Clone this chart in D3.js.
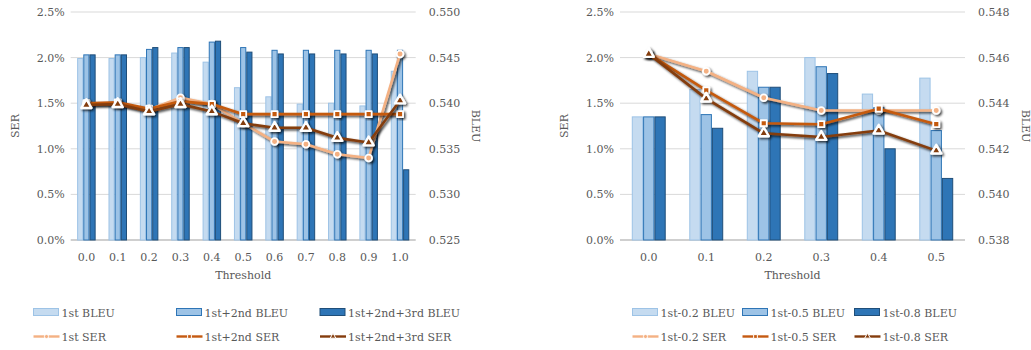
<!DOCTYPE html>
<html>
<head>
<meta charset="utf-8">
<script src="https://cdn.jsdelivr.net/npm/d3@7"></script>
<style>
  body { margin: 0; background: #fff; }
  svg text { font-family: "DejaVu Serif", serif; font-size: 11px; fill: #595959; }
</style>
</head>
<body>
<div id="chart"></div>
<script>
// left panel: cumulative candidates
const thresholdsL = ['0.0', '0.1', '0.2', '0.3', '0.4', '0.5', '0.6', '0.7', '0.8', '0.9', '1.0'];
const bleu1st      = [0.5449, 0.5449, 0.5450, 0.5455, 0.5445, 0.5417, 0.5407, 0.5399, 0.5400, 0.5397, 0.5435];
const bleu1st2nd   = [0.5453, 0.5453, 0.5459, 0.5461, 0.5467, 0.5461, 0.5458, 0.5458, 0.5458, 0.5458, 0.5458];
const bleu1st2nd3rd= [0.5453, 0.5453, 0.5461, 0.5461, 0.5468, 0.5456, 0.5454, 0.5454, 0.5454, 0.5454, 0.5327];
const ser1st       = [1.50, 1.50, 1.43, 1.56, 1.49, 1.28, 1.08, 1.05, 0.94, 0.90, 2.04];
const ser1st2nd    = [1.50, 1.51, 1.44, 1.52, 1.49, 1.38, 1.38, 1.38, 1.38, 1.38, 1.38];
const ser1st2nd3rd = [1.48, 1.49, 1.41, 1.49, 1.41, 1.28, 1.23, 1.23, 1.12, 1.07, 1.53];

// right panel: first candidate at different weights
const thresholdsR = ['0.0', '0.1', '0.2', '0.3', '0.4', '0.5'];
const bleuW02 = [0.5434, 0.5446, 0.5454, 0.5460, 0.5444, 0.5451];
const bleuW05 = [0.5434, 0.5435, 0.5447, 0.5456, 0.5438, 0.5428];
const bleuW08 = [0.5434, 0.5429, 0.5447, 0.5453, 0.5420, 0.5407];
const serW02  = [2.04, 1.85, 1.56, 1.42, 1.42, 1.42];
const serW05  = [2.04, 1.64, 1.28, 1.27, 1.44, 1.27];
const serW08  = [2.04, 1.55, 1.17, 1.13, 1.20, 0.98];

const serTicks = [0, 0.5, 1.0, 1.5, 2.0, 2.5];

const barStyles = [
  { fill: '#c5dbf0', stroke: '#9dc3e6' },
  { fill: '#9dc3e6', stroke: '#2e75b6' },
  { fill: '#2e75b6', stroke: '#1f4e79' }
];
const lineStyles = [
  { color: '#f4b183', marker: 'circle' },
  { color: '#c55a11', marker: 'square' },
  { color: '#843c0c', marker: 'triangle' }
];

const width = 1031, height = 350;
const svg = d3.select('#chart').append('svg')
  .attr('width', width).attr('height', height);

const defs = svg.append('defs');
defs.append('filter').attr('id', 'shadow')
  .attr('x', '-10%').attr('y', '-10%').attr('width', '130%').attr('height', '130%')
  .append('feDropShadow')
  .attr('dx', 1.6).attr('dy', 1.6).attr('stdDeviation', 1.3)
  .attr('flood-color', '#000').attr('flood-opacity', 0.75);

function markerPath(type, size) {
  if (type === 'circle') return d3.symbol(d3.symbolCircle, size)();
  if (type === 'square') return d3.symbol(d3.symbolSquare, size)();
  return d3.symbol(d3.symbolTriangle, size)();
}

function drawPanel(opt) {
  const { x0, x1, cats, bleus, sers, bleuDomain, bleuFormat, barNames, lineNames, legend } = opt;
  const top = 12, bottom = 240;
  const g = svg.append('g');

  const x = d3.scaleBand().domain(cats).range([x0, x1]).paddingInner(0.41).paddingOuter(0.205);
  const xb = d3.scaleBand().domain([0, 1, 2]).range([0, x.bandwidth()]);
  const yS = d3.scaleLinear().domain([0, 2.5]).range([bottom, top]);
  const yB = d3.scaleLinear().domain(bleuDomain).range([bottom, top]);

  // gridlines
  g.append('g').selectAll('line').data(serTicks).join('line')
    .attr('x1', x0).attr('x2', x1)
    .attr('y1', d => yS(d)).attr('y2', d => yS(d))
    .attr('stroke', d => d === 0 ? '#bfbfbf' : '#d9d9d9')
    .attr('stroke-width', d => d === 0 ? 1.3 : 1);

  // left axis
  const axL = g.append('g').attr('transform', `translate(${x0 - 6},0)`)
    .call(d3.axisLeft(yS).tickValues(serTicks).tickFormat(d => d.toFixed(1) + '%').tickSize(0).tickPadding(0));
  axL.select('.domain').remove();

  // right axis
  const axR = g.append('g').attr('transform', `translate(${x1 + 13},0)`)
    .call(d3.axisRight(yB).ticks(5).tickFormat(bleuFormat).tickSize(0).tickPadding(0));
  axR.select('.domain').remove();

  // x axis
  const axX = g.append('g').attr('transform', `translate(0,${bottom + 13})`)
    .call(d3.axisBottom(x).tickSize(0).tickPadding(0));
  axX.select('.domain').remove();

  g.append('text').attr('x', (x0 + x1) / 2).attr('y', 279).attr('text-anchor', 'middle').text('Threshold');
  g.append('text').attr('transform', `translate(${opt.serTitleX},126) rotate(-90)`)
    .attr('text-anchor', 'middle').text('SER');
  g.append('text').attr('transform', `translate(${opt.bleuTitleX},126) rotate(90)`)
    .attr('text-anchor', 'middle').text('BLEU');

  // bars
  bleus.forEach((vals, i) => {
    g.append('g').selectAll('rect').data(vals).join('rect')
      .attr('x', (d, j) => x(cats[j]) + xb(i) + 0.5)
      .attr('width', xb.bandwidth() - 1)
      .attr('y', d => yB(d))
      .attr('height', d => bottom - yB(d))
      .attr('fill', barStyles[i].fill)
      .attr('stroke', barStyles[i].stroke)
      .attr('stroke-width', 1);
  });

  // lines
  const line = d3.line().x((d, j) => x(cats[j]) + x.bandwidth() / 2).y(d => yS(d));
  sers.forEach((vals, i) => {
    const s = lineStyles[i];
    const tri = s.marker === 'triangle';
    const sg = g.append('g').attr('filter', 'url(#shadow)');
    sg.append('path').datum(vals).attr('d', line)
      .attr('fill', 'none').attr('stroke', s.color).attr('stroke-width', 2.6)
      .attr('stroke-linejoin', 'round');
    sg.selectAll('path.m').data(vals).join('path').attr('class', 'm')
      .attr('transform', (d, j) => `translate(${x(cats[j]) + x.bandwidth() / 2},${yS(d)})`)
      .attr('d', markerPath(s.marker, tri ? 44 : 36))
      .attr('fill', s.color)
      .attr('stroke', '#fff').attr('stroke-width', tri ? 2.4 : 1.8)
      .attr('stroke-linejoin', 'round');
  });

  // legend
  legend.cols.forEach((cx, i) => {
    const b = barStyles[i];
    g.append('rect').attr('x', cx).attr('y', 308.5).attr('width', 25).attr('height', 7)
      .attr('fill', b.fill).attr('stroke', b.stroke);
    g.append('text').attr('x', cx + 28).attr('y', 316.5).text(barNames[i]);
    const s = lineStyles[i];
    g.append('line').attr('x1', cx).attr('x2', cx + 26).attr('y1', 336.5).attr('y2', 336.5)
      .attr('stroke', s.color).attr('stroke-width', 2.4);
    g.append('path').attr('transform', `translate(${cx + 13},336.5)`)
      .attr('d', markerPath(s.marker, 14)).attr('fill', s.color).attr('stroke', '#fff').attr('stroke-width', 1);
    g.append('text').attr('x', cx + 28).attr('y', 340.5).text(lineNames[i]);
  });
}

drawPanel({
  x0: 70.7, x1: 415.7,
  cats: thresholdsL,
  bleus: [bleu1st, bleu1st2nd, bleu1st2nd3rd],
  sers: [ser1st, ser1st2nd, ser1st2nd3rd],
  bleuDomain: [0.525, 0.550],
  bleuFormat: d3.format('.3f'),
  barNames: ['1st BLEU', '1st+2nd BLEU', '1st+2nd+3rd BLEU'],
  lineNames: ['1st SER', '1st+2nd SER', '1st+2nd+3rd SER'],
  serTitleX: 19, bleuTitleX: 472,
  legend: { cols: [33.5, 176.5, 320] }
});

drawPanel({
  x0: 620, x1: 965,
  cats: thresholdsR,
  bleus: [bleuW02, bleuW05, bleuW08],
  sers: [serW02, serW05, serW08],
  bleuDomain: [0.538, 0.548],
  bleuFormat: d3.format('.3f'),
  barNames: ['1st-0.2 BLEU', '1st-0.5 BLEU', '1st-0.8 BLEU'],
  lineNames: ['1st-0.2 SER', '1st-0.5 SER', '1st-0.8 SER'],
  serTitleX: 568, bleuTitleX: 1022,
  legend: { cols: [632.5, 742.5, 854.5] }
});
</script>
</body>
</html>
